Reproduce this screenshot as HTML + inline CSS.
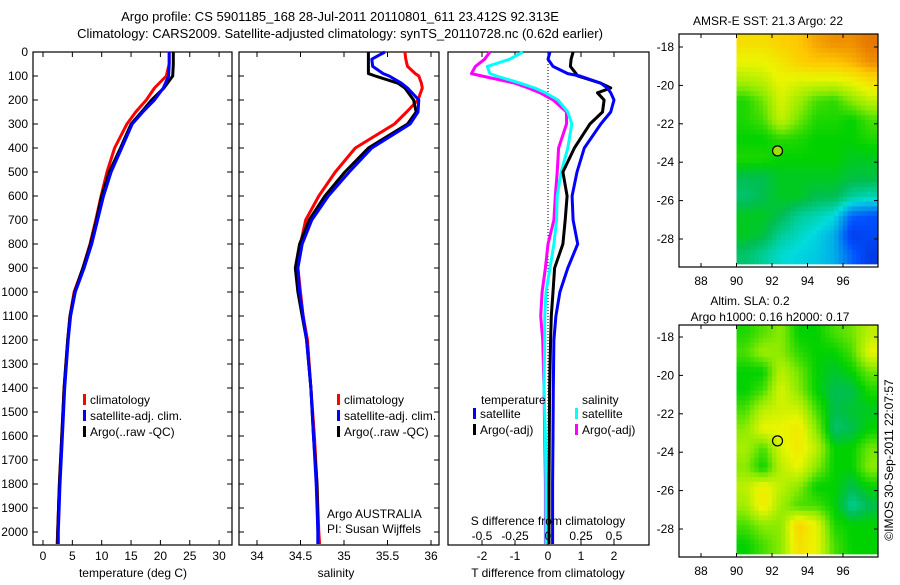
<!DOCTYPE html>
<html><head><meta charset="utf-8">
<style>
html,body{margin:0;padding:0;background:#fff;}
svg text{font-family:"Liberation Sans",sans-serif;font-size:12px;fill:#000;}
</style></head>
<body>
<svg id="fig" width="900" height="580" viewBox="0 0 900 580" xmlns="http://www.w3.org/2000/svg">
<text x="340" y="21" text-anchor="middle" style="font-size:13px">Argo profile: CS 5901185_168 28-Jul-2011 20110801_611 23.412S 92.313E</text>
<text x="340" y="38" text-anchor="middle" style="font-size:13px">Climatology: CARS2009. Satellite-adjusted climatology: synTS_20110728.nc (0.62d earlier)</text>
<g id="g1"></g>
<g id="g2"></g>
<g id="g3"></g>
<g id="m1"></g>
<g id="m2"></g>
<text transform="translate(893,460) rotate(-90)" text-anchor="middle">©IMOS 30-Sep-2011 22:07:57</text>
</svg>
<script>
// ---------- data ----------
const depthTicks=[0,100,200,300,400,500,600,700,800,900,1000,1100,1200,1300,1400,1500,1600,1700,1800,1900,2000];
const tempTicks=[0,5,10,15,20,25,30];
const salTicks=[34,34.5,35,35.5,36];
const tdTicks=[-2,-1,0,1,2];
const sdTicks=[-0.5,-0.25,0,0.25,0.5];
const sdTickLabels=["-0.5","-0.25","0","0.25","0.5"];

const tDepth=[0,50,100,150,200,250,300,400,500,600,700,800,900,1000,1100,1200,1400,1600,1800,2000,2050];
const tClim=[21.5,21.5,21.0,19.0,17.6,15.8,14.3,12.2,10.9,9.9,9.0,8.0,6.8,5.3,4.6,4.2,3.6,3.2,2.8,2.5,2.4];
const tSat=[21.5,21.5,21.4,20.5,19.0,17.0,15.2,13.4,11.6,10.3,9.3,8.3,7.0,5.5,4.7,4.3,3.7,3.3,2.9,2.6,2.6];
const tArgo=[22.2,22.2,22.1,20.6,18.5,16.8,15.0,13.2,11.3,10.0,9.1,8.1,6.8,5.4,4.6,4.2,3.6,3.2,2.8,2.5,2.5];

const sDepth=[0,30,60,90,100,130,150,200,250,300,400,500,600,700,800,900,1000,1100,1200,1400,1600,1800,2000,2050];
const sClim=[35.70,35.71,35.73,35.82,35.86,35.89,35.90,35.85,35.72,35.58,35.13,34.90,34.71,34.56,34.50,34.47,34.50,34.53,34.58,34.62,34.66,34.69,34.71,34.72];
const sSat=[35.47,35.32,35.33,35.45,35.52,35.66,35.73,35.86,35.85,35.76,35.32,35.06,34.82,34.63,34.52,34.47,34.49,34.53,34.57,34.62,34.65,34.68,34.70,34.70];
const sArgo=[35.28,35.28,35.28,35.28,35.36,35.62,35.70,35.80,35.83,35.73,35.28,35.01,34.78,34.60,34.49,34.44,34.47,34.52,34.57,34.62,34.65,34.69,34.70,34.70];

const dDepth=[0,30,60,90,100,130,150,170,200,250,300,400,500,600,700,800,900,1000,1100,1200,1400,1600,1800,2000,2050];
const dTSat=[0.06,0.0,0.15,0.6,0.97,1.6,1.8,1.9,2.0,1.9,1.6,1.1,0.88,0.73,0.76,0.9,0.6,0.36,0.24,0.18,0.16,0.15,0.14,0.14,0.14];
const dTArgo=[0.76,0.7,0.68,0.85,0.9,1.6,1.9,1.5,1.7,1.65,1.27,0.8,0.45,0.58,0.52,0.45,0.2,0.15,0.1,0.08,0.05,0.04,0.03,0.03,0.03];
const dSSat=[-0.19,-0.29,-0.46,-0.44,-0.39,-0.21,-0.1,-0.02,0.076,0.15,0.18,0.15,0.1,0.07,0.065,0.045,0.015,-0.015,-0.025,-0.025,-0.03,-0.02,-0.015,-0.015,-0.015];
const dSArgo=[-0.44,-0.48,-0.55,-0.58,-0.5,-0.25,-0.15,-0.06,0.04,0.14,0.14,0.08,0.07,0.055,0.045,0.0,-0.02,-0.045,-0.055,-0.04,-0.03,-0.025,-0.02,-0.02,-0.02];

const lonTicks=[88,90,92,94,96];
const latTicks=[-18,-20,-22,-24,-26,-28];
const sstGrid=[
[7.5,7.5,7.8,8,8.5,8.8,8.8,9.2],
[7,7,7.3,7.8,8,8,8.3,8.8],
[6.3,6.5,7,6.8,6.8,6.8,7,7.5],
[5.2,5.8,6.8,6.2,5.5,5.3,6,6.5],
[5.2,5.5,6.6,5.8,5.2,5.2,5,5.5],
[5,5,5.3,5.2,5,5,5,5.2],
[5.2,5.2,5,5,5,5,4.8,4.8],
[4.5,4.5,4.8,4.8,4.8,4.8,4.6,4.6],
[4.3,4.5,4.8,4.8,4.5,4.5,4,3.8],
[4.8,4.8,4.5,4,3.8,3.5,2.2,2],
[4.8,4.6,4,3.7,3.4,3,1.6,1.8],
[4.3,4,3.6,3.4,3.3,3,2.2,1.5]];
const slaGrid=[
[5.2,5.6,6,5,5,5.5,5.8,6.5],
[5.5,6.2,6,5.3,5,5,5.5,7],
[5,5,6.5,5.8,5,4.7,5,5.8],
[5,5.5,6.8,6,5,4.5,4.5,5.2],
[5.5,6.5,6.7,6.7,5.5,4.5,4.7,4.8],
[6,7,7,7.3,6,4.3,4.5,5],
[6.3,5.5,6.8,7.3,6.5,5,5,5.8],
[6,5,6.5,7,6,5,5,6],
[6.5,7.2,6.5,6,5,5,4.5,5],
[6.2,7.3,6.2,5.5,5.5,5,4,4.5],
[5.5,6,6,7.8,7,5.2,5,5],
[5,5.5,6,7.5,7,5.5,5,5]];
const gridLon0=90, gridLat0=-17.3;
const argoLon=92.31, argoLat=-23.41;

// ---------- helpers ----------
const NS="http://www.w3.org/2000/svg";
function mk(tag,attrs,parent){const e=document.createElementNS(NS,tag);for(const k in attrs)e.setAttribute(k,attrs[k]);parent.appendChild(e);return e;}
function txt(parent,x,y,s,anchor){const t=mk('text',{x:x,y:y,'text-anchor':anchor||'start'},parent);t.textContent=s;return t;}
const yTop=52,yBot=545;
const yD=d=>yTop+d*0.24;

function frame(g,x0,x1,xticks,xfun,yticks){
  const r=mk('rect',{x:x0,y:yTop,width:x1-x0,height:yBot-yTop,fill:'none',stroke:'#000','stroke-width':1.2},g);
  
  
  xticks.forEach(v=>{const x=xfun(v);
    mk('line',{x1:x,x2:x,y1:yBot,y2:yBot-5,stroke:'#000'},g);
    mk('line',{x1:x,x2:x,y1:yTop,y2:yTop+5,stroke:'#000'},g);});
  if(yticks) yticks.forEach(d=>{const y=yD(d);
    mk('line',{x1:x0,x2:x0+5,y1:y,y2:y,stroke:'#000'},g);
    mk('line',{x1:x1,x2:x1-5,y1:y,y2:y,stroke:'#000'},g);});
}
function series(g,name,xs,ds,xfun,color){
  const pts=xs.map((v,i)=>xfun(v).toFixed(1)+','+yD(ds[i]).toFixed(1)).join(' ');
  const p=mk('polyline',{points:pts,fill:'none',stroke:color,'stroke-width':3,'stroke-linejoin':'round'},g);
  
  
}
function legend(g,x,y,items){
  items.forEach((it,i)=>{
    const r=mk('rect',{x:x,y:y+i*16-10,width:3,height:11,fill:it[1]},g);
    
    
    const t=txt(g,x+7,y+i*16,it[0]);
    
    
  });
}

// ---------- panel 1 ----------
const g1=document.getElementById('g1');
const xT=v=>43+v*5.87;
frame(g1,33,232,tempTicks,xT,depthTicks);
depthTicks.forEach(d=>{const t=txt(g1,28,yD(d)+4,String(d),'end');
  
  });
tempTicks.forEach(v=>{const t=txt(g1,xT(v),560,String(v),'middle');
  
  });
{const t=txt(g1,133,577,'temperature (deg C)','middle');
 
 }
series(g1,'temp-climatology-line',tClim,tDepth,xT,'#ff0000');
series(g1,'temp-argo-line',tArgo,tDepth,xT,'#000000');
series(g1,'temp-satellite-line',tSat,tDepth,xT,'#0000ff');
legend(g1,83,404,[['climatology','#f00'],['satellite-adj. clim.','#00f'],['Argo(..raw -QC)','#000']]);

// ---------- panel 2 ----------
const g2=document.getElementById('g2');
const xS=v=>257+(v-34)*87;
frame(g2,239,439,salTicks,xS,depthTicks);
salTicks.forEach(v=>{const t=txt(g2,xS(v),560,String(v),'middle');
  
  });
{const t=txt(g2,336,577,'salinity','middle');
 
 }
series(g2,'sal-climatology-line',sClim,sDepth,xS,'#ff0000');
series(g2,'sal-argo-line',sArgo,sDepth,xS,'#000000');
series(g2,'sal-satellite-line',sSat,sDepth,xS,'#0000ff');
legend(g2,337,404,[['climatology','#f00'],['satellite-adj. clim.','#00f'],['Argo(..raw -QC)','#000']]);
{const t=txt(g2,327,518,'Argo AUSTRALIA');
 const u=txt(g2,327,533,'PI: Susan Wijffels');}

// ---------- panel 3 ----------
const g3=document.getElementById('g3');
const xTD=v=>548+v*33;
const xSD=v=>548+v*132;
frame(g3,448,649,tdTicks,xTD,null);
{const z=mk('line',{x1:548,x2:548,y1:yTop,y2:yBot,stroke:'#000','stroke-dasharray':'1,2'},g3);
 }
series(g3,'sdiff-argo-line',dSArgo,dDepth,xSD,'#ff00ff');
series(g3,'sdiff-satellite-line',dSSat,dDepth,xSD,'#00ffff');
series(g3,'tdiff-argo-line',dTArgo,dDepth,xTD,'#000000');
series(g3,'tdiff-satellite-line',dTSat,dDepth,xTD,'#0000ff');
tdTicks.forEach(v=>{const t=txt(g3,xTD(v),560,String(v),'middle');
  
  });
sdTicks.forEach((v,i)=>{const t=txt(g3,xSD(v),540,sdTickLabels[i],'middle');
  
  });
{const t=txt(g3,548,525,'S difference from climatology','middle');
 const u=txt(g3,548,577,'T difference from climatology','middle');
 const a=txt(g3,481,404,'temperature');
 const b=txt(g3,582,404,'salinity');}
legend(g3,473,418,[['satellite','#00f'],['Argo(-adj)','#000']]);
legend(g3,575,418,[['satellite','#0ff'],['Argo(-adj)','#f0f']]);

// ---------- maps ----------
const stops=[[0,[0,0,150]],[2,[0,80,255]],[3.5,[0,220,220]],[4.5,[0,190,80]],[5,[0,210,0]],[6,[140,235,0]],[7,[235,245,0]],[8,[255,200,0]],[9,[235,130,0]],[10,[200,80,0]]];
function cmap(v){for(let i=1;i<stops.length;i++){if(v<=stops[i][0]){const a=stops[i-1],b=stops[i];const f=(v-a[0])/(b[0]-a[0]);
  const c=a[1].map((x,k)=>Math.round(x+(b[1][k]-x)*f));return 'rgb('+c.join(',')+')';}}return 'rgb(200,80,0)';}
function sample(grid,fr,fc){
  const R=grid.length,C=grid[0].length;
  fr=Math.max(0,Math.min(R-1,fr));fc=Math.max(0,Math.min(C-1,fc));
  const r0=Math.floor(fr),c0=Math.floor(fc),r1=Math.min(R-1,r0+1),c1=Math.min(C-1,c0+1);
  const a=fr-r0,b=fc-c0;
  return grid[r0][c0]*(1-a)*(1-b)+grid[r0][c1]*(1-a)*b+grid[r1][c0]*a*(1-b)+grid[r1][c1]*a*b;
}
function map(id,yTopM,yBotM,lat18y,grid,titles){
  const g=document.getElementById(id);
  const x0=679,x1=878;
  const lx=lon=>701+(lon-88)*17.75;
  const ly=lat=>lat18y+(-18-lat)*19.2;
  const cp=mk('clipPath',{id:'cp'+id},g);
  mk('rect',{x:x0,y:yTopM,width:x1-x0,height:yBotM-yTopM},cp);
  const cells=mk('g',{'clip-path':'url(#cp'+id+')'},g);
  const sub=4, R=grid.length, C=grid[0].length;
  for(let r=0;r<R*sub;r++)for(let c=0;c<C*sub;c++){
    const v=sample(grid,(r+0.5)/sub-0.5,(c+0.5)/sub-0.5);
    const x=lx(gridLon0+c/sub),y=ly(gridLat0-r/sub);
    const e=mk('rect',{x:x,y:y,width:17.75/sub+0.4,height:19.2/sub+0.4,fill:cmap(v)},cells);
    
    
  }
  const fr=mk('rect',{x:x0,y:yTopM,width:x1-x0,height:yBotM-yTopM,fill:'none',stroke:'#000','stroke-width':1.2},g);
  
  
  lonTicks.forEach(l=>{const x=lx(l);
    mk('line',{x1:x,x2:x,y1:yBotM,y2:yBotM-4,stroke:'#000'},g);
    mk('line',{x1:x,x2:x,y1:yTopM,y2:yTopM+4,stroke:'#000'},g);
    const t=txt(g,x,yBotM+18,String(l),'middle');
    
    });
  latTicks.forEach(l=>{const y=ly(l);
    mk('line',{x1:x0,x2:x0+4,y1:y,y2:y,stroke:'#000'},g);
    mk('line',{x1:x1,x2:x1-4,y1:y,y2:y,stroke:'#000'},g);
    const t=txt(g,x0-5,y+4,String(l),'end');
    
    });
  const c=mk('circle',{cx:lx(argoLon),cy:ly(argoLat),r:5,fill:id==='m1'?'#a0e000':'none',stroke:'#000','stroke-width':1.2},g);
  
  
  titles.forEach(tt=>{const t=txt(g,tt[0],tt[1],tt[2],'middle');
    
    });
}
map('m1',34,267,47,sstGrid,[[768,25,'AMSR-E SST: 21.3 Argo: 22']]);
map('m2',325,557,337,slaGrid,[[750,305,'Altim. SLA: 0.2'],[770,321,'Argo h1000: 0.16 h2000: 0.17']]);
</script>
</body></html>
